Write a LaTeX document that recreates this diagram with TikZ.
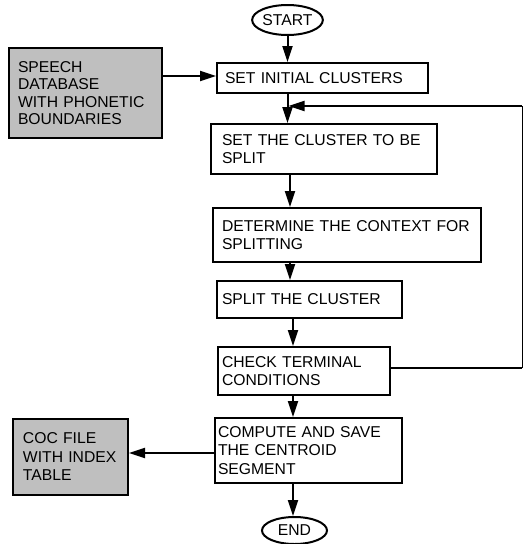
\documentclass[tikz,border=0pt]{standalone}
\usepackage{fontspec}
\setmainfont{Liberation Sans}
\usetikzlibrary{arrows.meta,shapes.geometric}
\begin{document}
\begin{tikzpicture}[x=1pt,y=-1pt,
  every node/.style={font=\fontsize{15.7}{18.5}\selectfont},
  stepbox/.style={draw, line width=2pt, align=left, inner xsep=5pt, inner ysep=0pt},
  databox/.style={stepbox, fill=black!25},
  term/.style={draw, ellipse, line width=2pt, inner sep=0pt},
  flow/.style={line width=2pt, -{Triangle[length=16pt,width=10pt]}},
  line/.style={line width=2pt}
]
\useasboundingbox (0,0) rectangle (524,544);
\node[term, minimum width=69pt, minimum height=30pt] (start) at (287.5,20) {START};
\node[stepbox, inner xsep=8pt, minimum width=211pt, minimum height=30pt, text width=195pt] (init) at (322.5,78) {\mbox{SET INITIAL CLUSTERS}};
\node[databox, inner xsep=9pt, minimum width=153pt, minimum height=90pt, text width=135pt, font=\fontsize{15.7}{17.5}\selectfont] (speech) at (85.5,93) {SPEECH\\DATABASE\\\mbox{WITH PHONETIC}\\BOUNDARIES};
\node[stepbox, inner xsep=11pt, minimum width=226pt, minimum height=50pt, text width=204pt] (setc) at (324,149) {\mbox{SET THE CLUSTER TO BE}\\SPLIT};
\node[stepbox, inner xsep=9pt, minimum width=268pt, minimum height=54pt, text width=250pt] (det) at (347,235) {\mbox{DETERMINE THE CONTEXT FOR}\\SPLITTING};
\node[stepbox, minimum width=185pt, minimum height=37pt, text width=175pt] (split) at (309.5,299.5) {\mbox{SPLIT THE CLUSTER}};
\node[stepbox, inner xsep=4pt, minimum width=172pt, minimum height=48pt, text width=164pt] (check) at (304,371) {\mbox{CHECK TERMINAL}\\CONDITIONS};
\node[stepbox, inner xsep=3pt, minimum width=187pt, minimum height=65pt, text width=181pt] (comp) at (308.5,450.5) {\mbox{COMPUTE AND SAVE}\\\mbox{THE CENTROID}\\SEGMENT};
\node[databox, inner xsep=10pt, minimum width=115pt, minimum height=76pt, text width=95pt] (coc) at (70.5,457) {\mbox{COC FILE}\\\mbox{WITH INDEX}\\TABLE};
\node[term, minimum width=65pt, minimum height=27pt] (end) at (294.5,530.5) {END};

\coordinate (sp1) at (287.5,0);
\coordinate (sp2) at (290,0);
\coordinate (sp3) at (293,0);
\coordinate (fbr) at (522,106);
\coordinate (fbl) at (288.5,106);
\coordinate (ay) at (0,76);
\coordinate (cy) at (0,453);
\coordinate (ty) at (0,368);

\draw[flow] (start.south) -- (start.south |- init.north);
\draw[flow] (speech.east |- ay) -- (init.west |- ay);
\draw[flow] (sp1 |- init.south) -- (sp1 |- setc.north);
\draw[flow] (sp2 |- setc.south) -- (sp2 |- det.north);
\draw[flow] (sp2 |- det.south) -- (sp2 |- split.north);
\draw[flow] (sp3 |- split.south) -- (sp3 |- check.north);
\draw[flow] (sp3 |- check.south) -- (sp3 |- comp.north);
\draw[flow] (sp3 |- comp.south) -- (sp3 |- end.north);
\draw[flow] (comp.west |- cy) -- (coc.east |- cy);
\draw[line] (check.east |- ty) -- (fbr |- ty);
\draw[line width=1pt] (fbr |- ty) -- (fbr);
\draw[flow] (fbr) -- (fbl);
\end{tikzpicture}
\end{document}
